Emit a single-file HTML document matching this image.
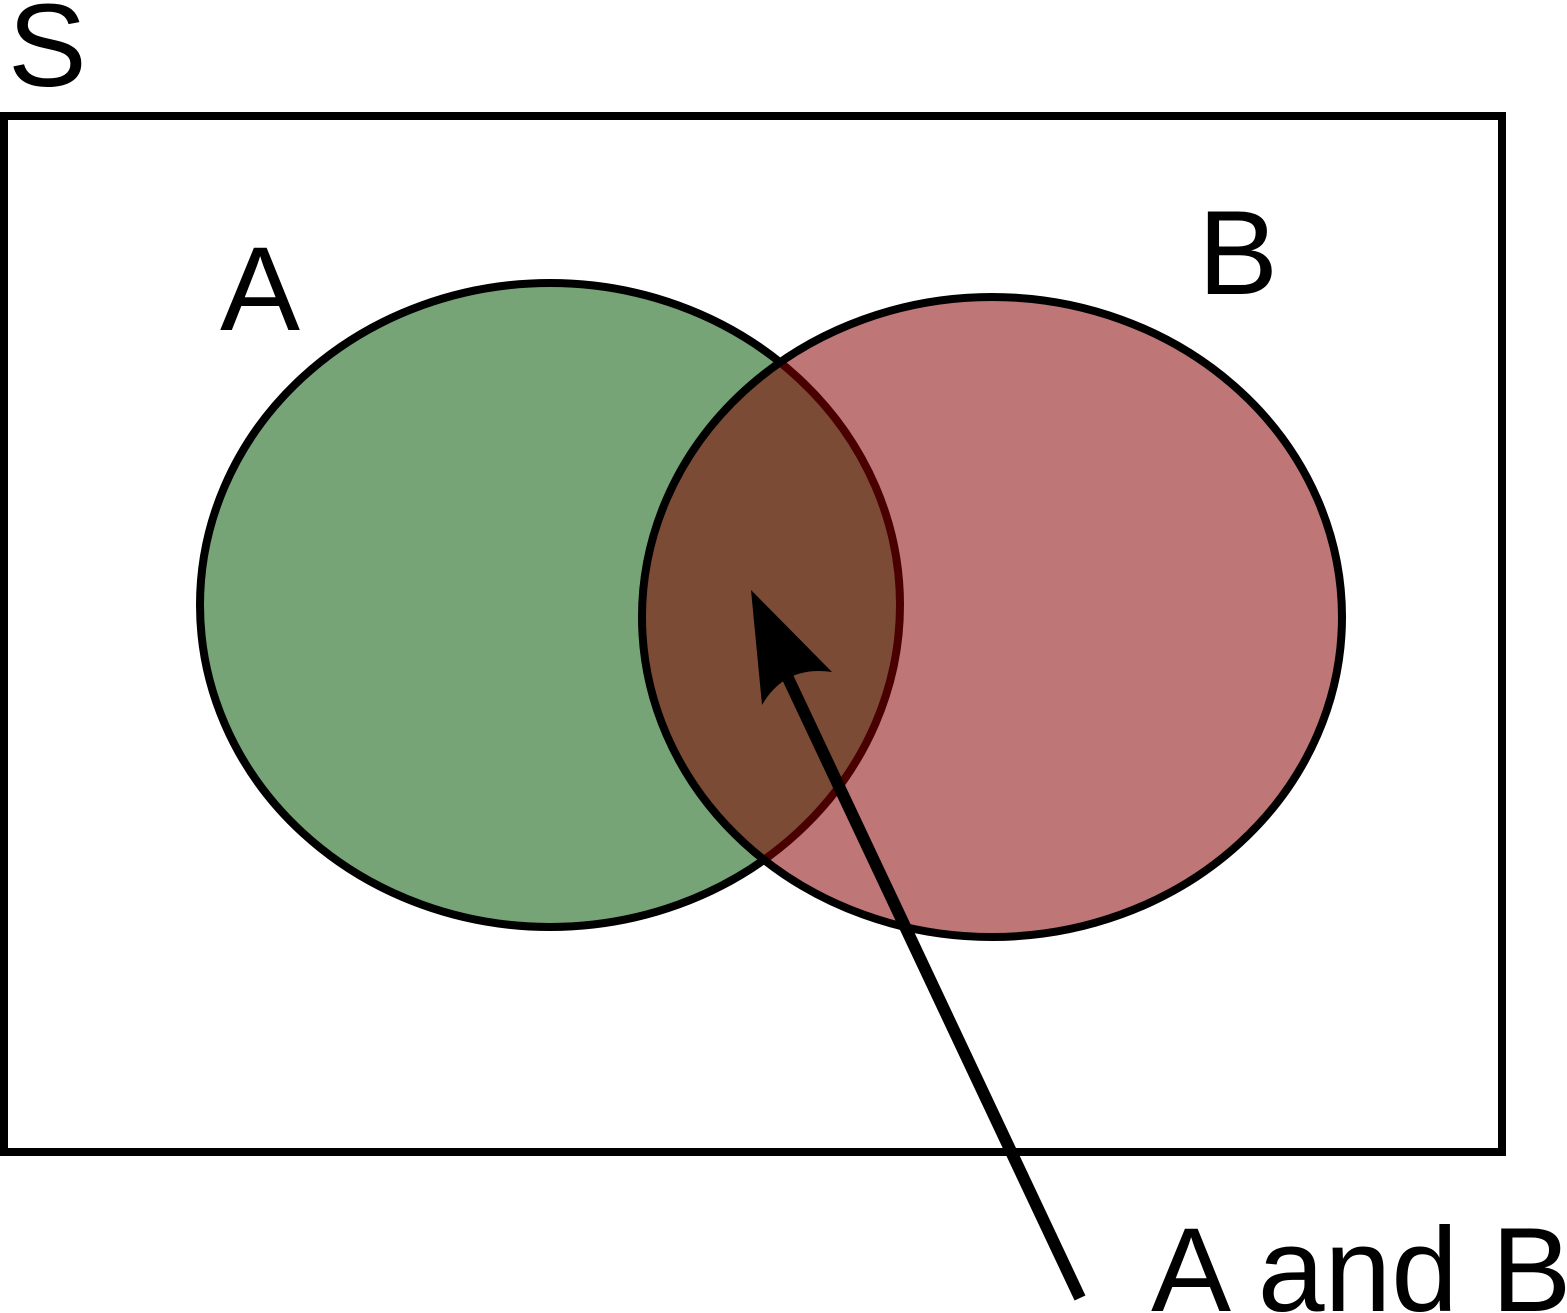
<!DOCTYPE html>
<html><head><meta charset="utf-8"><style>
html,body{margin:0;padding:0;background:#fff;}
svg{display:block;}
text{font-family:"Liberation Sans",sans-serif;fill:#000;}
</style></head><body>
<svg id="chart" width="1567" height="1313" viewBox="0 0 1567 1313">
<defs>
<clipPath id="clipB"><ellipse id="clipBe" cx="992" cy="617" rx="350" ry="320"/></clipPath>
</defs>
<rect x="4" y="116" width="1498" height="1036" fill="none" stroke="#000" stroke-width="8"/>
<text x="8" y="86" font-size="118">S</text>
<g id="sets"></g>
<text x="220" y="330" font-size="120">A</text>
<text x="1198" y="294" font-size="120">B</text>
<line x1="1080" y1="1298" x2="787" y2="676" stroke="#000" stroke-width="12"/>
<path d="M751,590 L832,672 Q785,665 762,705 Z" fill="#000"/>
<text x="1151" y="1311" font-size="120">A and B</text>
</svg>
<script>
const setNames=["A","B"];
const centersX=[550,992];
const centersY=[605,617];
const radiiX=[350,350];
const radiiY=[322,320];
const ns="http://www.w3.org/2000/svg";
const g=document.getElementById("sets");
function ell(i,fill,stroke,clip){
  const e=document.createElementNS(ns,"ellipse");
  e.setAttribute("cx",centersX[i]);e.setAttribute("cy",centersY[i]);
  e.setAttribute("rx",radiiX[i]);e.setAttribute("ry",radiiY[i]);
  e.setAttribute("fill",fill);e.setAttribute("stroke",stroke);e.setAttribute("stroke-width","8");
  if(clip)e.setAttribute("clip-path","url(#clipB)");
  g.appendChild(e);return e;
}
const ce=document.getElementById("clipBe");
ce.setAttribute("cx",centersX[1]);ce.setAttribute("cy",centersY[1]);
ce.setAttribute("rx",radiiX[1]);ce.setAttribute("ry",radiiY[1]);
let a=ell(0,"#77a476","#000",false);


let b=ell(1,"#be7676","none",false);


let o=ell(0,"#7b4b35","#4a0000",true);


let bo=ell(1,"none","#000",false);


</script>
</body></html>
